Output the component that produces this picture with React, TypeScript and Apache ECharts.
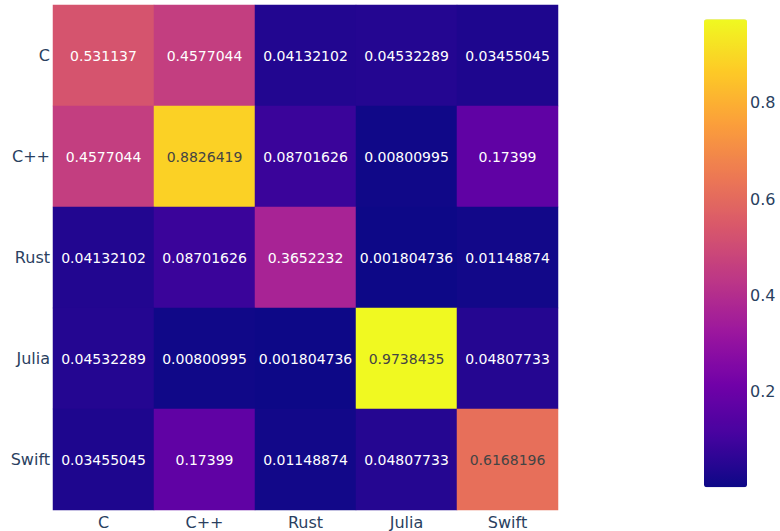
import React, { useEffect, useRef } from "react";
import * as echarts from "echarts";

const languages = ["C", "C++", "Rust", "Julia", "Swift"];
const rowC = [0.531137, 0.4577044, 0.04132102, 0.04532289, 0.03455045];
const rowCpp = [0.4577044, 0.8826419, 0.08701626, 0.00800995, 0.17399];
const rowRust = [0.04132102, 0.08701626, 0.3652232, 0.001804736, 0.01148874];
const rowJulia = [0.04532289, 0.00800995, 0.001804736, 0.9738435, 0.04807733];
const rowSwift = [0.03455045, 0.17399, 0.01148874, 0.04807733, 0.6168196];
const matrix = [rowC, rowCpp, rowRust, rowJulia, rowSwift];
const colorbarTicks = [0.2, 0.4, 0.6, 0.8];
const plasma = ["#0d0887", "#46039f", "#7201a8", "#9c179e", "#bd3786", "#d8576b", "#ed7953", "#fb9f3a", "#fdca26", "#f0f921"];

const FONT = "DejaVu Sans";
const AXIS_COLOR = "#2a3f5f";

export default function App() {
  const ref = useRef<HTMLDivElement>(null);
  useEffect(() => {
    if (!ref.current) return;
    const chart = echarts.init(ref.current, undefined, { renderer: "svg" });
    const all = matrix.flat();
    const vmin = Math.min(...all);
    const vmax = Math.max(...all);
    const data: any[] = [];
    matrix.forEach((row, yi) =>
      row.forEach((v, xi) => {
        data.push({
          value: [xi, yi, v],
          label: { color: v > 0.6 ? "#444444" : "#ffffff" },
        });
      })
    );
    chart.setOption({
      animation: false,
      backgroundColor: "#ffffff",
      textStyle: { fontFamily: FONT },
      grid: [
        { left: 53, top: 5, width: 505, height: 505 },
        { left: 704, top: 19.3, width: 43, height: 468 },
      ],
      xAxis: [
        {
          type: "category",
          gridIndex: 0,
          data: languages,
          axisLine: { show: false },
          axisTick: { show: false },
          axisLabel: { color: AXIS_COLOR, fontSize: 16, fontFamily: FONT, margin: 4 },
          splitLine: { show: false },
        },
        { type: "value", gridIndex: 1, show: false, min: 0, max: 1 },
      ],
      yAxis: [
        {
          type: "category",
          gridIndex: 0,
          data: languages,
          inverse: true,
          axisLine: { show: false },
          axisTick: { show: false },
          axisLabel: { color: AXIS_COLOR, fontSize: 16, fontFamily: FONT, margin: 3 },
          splitLine: { show: false },
        },
        {
          type: "value",
          gridIndex: 1,
          position: "right",
          min: vmin,
          max: vmax,
          axisLine: { show: false },
          axisTick: { show: false },
          splitLine: { show: false },
          axisLabel: {
            customValues: colorbarTicks,
            color: AXIS_COLOR,
            fontSize: 16,
            fontFamily: FONT,
            margin: 3,
            formatter: (v: number) => String(Math.round(v * 10) / 10),
          },
        },
      ],
      visualMap: [
        {
          type: "continuous",
          seriesIndex: 0,
          min: vmin,
          max: vmax,
          calculable: false,
          realtime: false,
          left: 704,
          top: 19.3,
          padding: 0,
          itemWidth: 43,
          itemHeight: 468,
          text: ["", ""],
          showLabel: false,
          inRange: { color: plasma },
        },
      ],
      series: [
        {
          type: "heatmap",
          xAxisIndex: 0,
          yAxisIndex: 0,
          data,
          label: {
            show: true,
            fontSize: 14,
            fontFamily: FONT,
            formatter: (p: any) => String(p.value[2]),
          },
          emphasis: { disabled: true },
        },
      ],
    });
    return () => chart.dispose();
  }, []);
  return (
    <div
      ref={ref}
      style={{ position: "fixed", left: 0, top: 0, width: 780, height: 531 }}
    />
  );
}
